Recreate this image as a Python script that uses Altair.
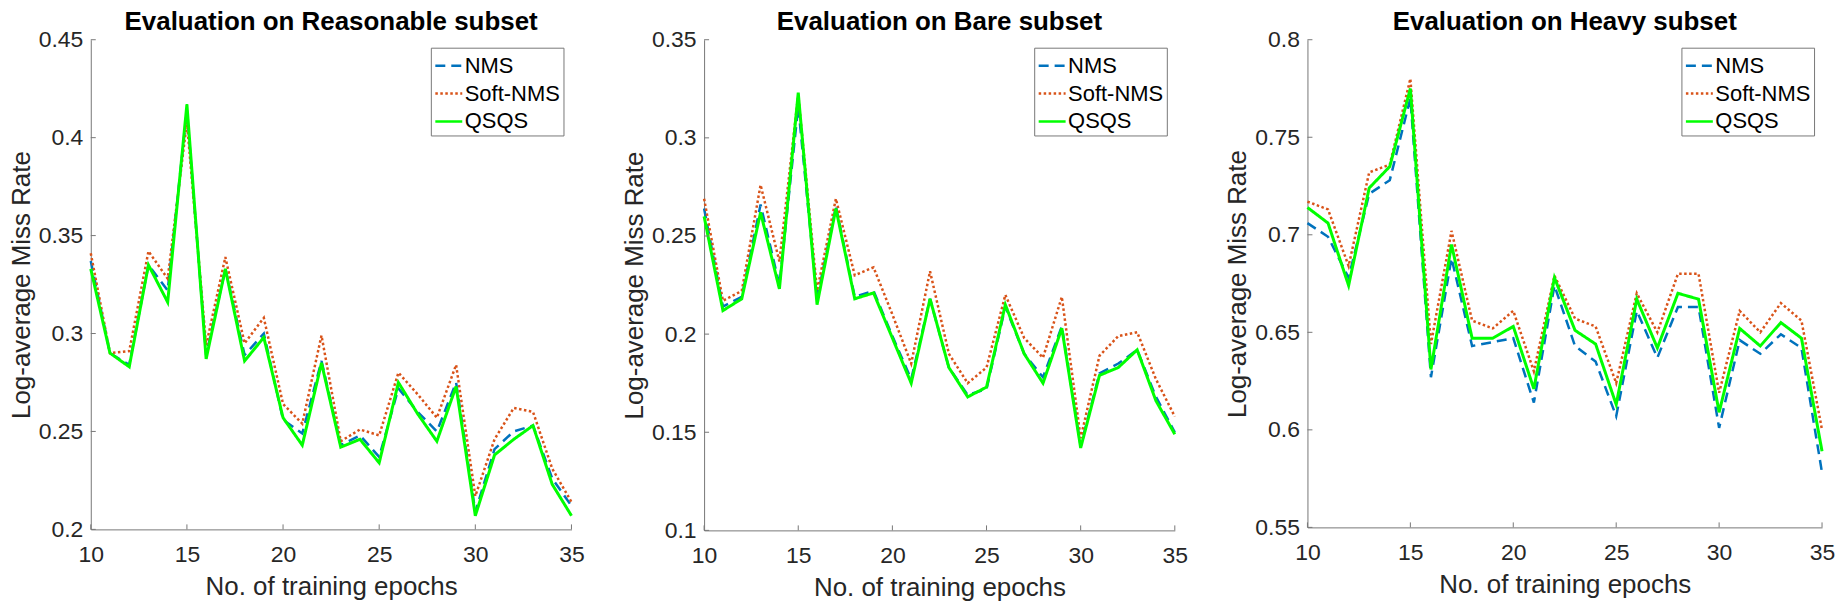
import altair as alt
import pandas as pd

# ---------------- data ----------------
epochs = [10, 11, 12, 13, 14, 15, 16, 17, 18, 19, 20, 21, 22, 23, 24, 25, 26, 27, 28, 29, 30, 31, 32, 33, 34, 35]
methods = ["NMS", "Soft-NMS", "QSQS"]

reasonable_nms = [0.337, 0.290, 0.284, 0.335, 0.322, 0.414, 0.289, 0.333, 0.289, 0.300, 0.256, 0.249, 0.286,
                  0.243, 0.248, 0.237, 0.272, 0.260, 0.250, 0.275, 0.209, 0.241, 0.250, 0.253, 0.226, 0.212]
reasonable_soft = [0.341, 0.290, 0.291, 0.342, 0.328, 0.408, 0.294, 0.339, 0.295, 0.308, 0.264, 0.254, 0.299,
                   0.245, 0.251, 0.248, 0.280, 0.269, 0.257, 0.284, 0.217, 0.246, 0.262, 0.260, 0.231, 0.214]
reasonable_qsqs = [0.333, 0.290, 0.283, 0.335, 0.316, 0.417, 0.287, 0.333, 0.286, 0.298, 0.257, 0.243, 0.285,
                   0.242, 0.246, 0.234, 0.275, 0.259, 0.245, 0.273, 0.207, 0.238, 0.246, 0.253, 0.223, 0.207]

bare_nms = [0.264, 0.214, 0.219, 0.266, 0.225, 0.316, 0.218, 0.265, 0.219, 0.222, 0.199, 0.177, 0.218,
            0.183, 0.169, 0.172, 0.214, 0.190, 0.178, 0.204, 0.143, 0.180, 0.185, 0.192, 0.168, 0.150]
bare_soft = [0.269, 0.217, 0.222, 0.276, 0.237, 0.322, 0.222, 0.269, 0.230, 0.234, 0.210, 0.185, 0.232,
             0.190, 0.175, 0.183, 0.220, 0.198, 0.188, 0.219, 0.147, 0.189, 0.199, 0.201, 0.177, 0.158]
bare_qsqs = [0.260, 0.212, 0.218, 0.262, 0.223, 0.323, 0.215, 0.264, 0.218, 0.221, 0.198, 0.175, 0.218,
             0.183, 0.168, 0.173, 0.215, 0.190, 0.175, 0.203, 0.142, 0.179, 0.183, 0.192, 0.166, 0.149]

heavy_nms = [0.706, 0.699, 0.678, 0.721, 0.728, 0.770, 0.627, 0.688, 0.643, 0.645, 0.647, 0.614, 0.674,
             0.643, 0.635, 0.607, 0.661, 0.637, 0.663, 0.663, 0.601, 0.646, 0.639, 0.649, 0.642, 0.578]
heavy_soft = [0.717, 0.713, 0.684, 0.732, 0.736, 0.780, 0.644, 0.702, 0.656, 0.652, 0.661, 0.630, 0.679,
              0.657, 0.653, 0.624, 0.670, 0.650, 0.680, 0.680, 0.619, 0.661, 0.650, 0.665, 0.656, 0.600]
heavy_qsqs = [0.714, 0.706, 0.674, 0.724, 0.735, 0.775, 0.631, 0.695, 0.647, 0.647, 0.653, 0.621, 0.678,
              0.651, 0.644, 0.613, 0.667, 0.642, 0.670, 0.667, 0.609, 0.652, 0.643, 0.655, 0.647, 0.589]

x_ticks = [10, 15, 20, 25, 30, 35]
reasonable_yticks = [0.2, 0.25, 0.3, 0.35, 0.4, 0.45]
bare_yticks = [0.1, 0.15, 0.2, 0.25, 0.3, 0.35]
heavy_yticks = [0.55, 0.6, 0.65, 0.7, 0.75, 0.8]

titles = ["Evaluation on Reasonable subset", "Evaluation on Bare subset", "Evaluation on Heavy subset"]

# ---------------- style ----------------
FONT = "Liberation Sans"
COLORS = ["#0072BD", "#D95319", "#00FF00"]
DASHES = [[10, 6], [2.5, 2.5], [1, 0]]
WIDTHS = {"NMS": 2.5, "Soft-NMS": 2.5, "QSQS": 3}
AXIS_GRAY = "#777777"
TEXT = "#262626"


def panel(title, nms, soft, qsqs, yticks, width, height):
    rows = []
    for m, vals in zip(methods, [nms, soft, qsqs]):
        for e, v in zip(epochs, vals):
            rows.append({"epoch": e, "value": v, "method": m})
    df = pd.DataFrame(rows)

    xscale = alt.Scale(domain=[x_ticks[0], x_ticks[-1]], nice=False, zero=False)
    yscale = alt.Scale(domain=[yticks[0], yticks[-1]], nice=False, zero=False)

    legend = alt.Legend(
        title=None, orient="top-right", offset=8, strokeColor=AXIS_GRAY, fillColor="white",
        padding=3, symbolType="stroke", symbolSize=729, symbolStrokeWidth=2.5,
        labelFont=FONT, labelFontSize=22, labelColor="black", labelOffset=1,
        rowPadding=2, labelLimit=300,
    )

    common = dict(ticks=False, grid=False, labelFlush=False, labelOverlap=False,
                  labelFont=FONT, labelFontSize=23, labelColor=TEXT,
                  titleFont=FONT, titleFontSize=26, titleFontWeight="normal", titleColor=TEXT,
                  domainColor=AXIS_GRAY, domainWidth=1)
    xaxis = alt.Axis(values=x_ticks, format="d", title="No. of training epochs",
                     labelPadding=14, titlePadding=7, **common)
    yaxis = alt.Axis(values=yticks, format=".2~f", title="Log-average Miss Rate",
                     labelPadding=8, titlePadding=4, **common)
    x = alt.X("epoch:Q", scale=xscale, axis=xaxis)
    y = alt.Y("value:Q", scale=yscale, axis=yaxis)
    color = alt.Color("method:N", scale=alt.Scale(domain=methods, range=COLORS), legend=legend)
    dash = alt.StrokeDash("method:N", scale=alt.Scale(domain=methods, range=DASHES), legend=legend)

    base = alt.Chart(df)
    layers = []
    for m in methods:
        layers.append(
            base.transform_filter(alt.datum.method == m)
            .mark_line(strokeWidth=WIDTHS[m], strokeCap="butt", strokeJoin="miter")
            .encode(x=x, y=y, color=color, strokeDash=dash)
        )

    ytick_df = pd.DataFrame({"t": yticks})
    xtick_df = pd.DataFrame({"t": x_ticks})
    ytick_layer = alt.Chart(ytick_df).mark_rule(color=AXIS_GRAY, strokeWidth=1).encode(
        y=alt.Y("t:Q", scale=yscale, axis=yaxis), x=alt.value(0), x2=alt.value(5))
    xtick_layer = alt.Chart(xtick_df).mark_rule(color=AXIS_GRAY, strokeWidth=1).encode(
        x=alt.X("t:Q", scale=xscale, axis=xaxis), y=alt.value(height), y2=alt.value(height - 5))

    return alt.layer(*layers, ytick_layer, xtick_layer).properties(
        width=width, height=height,
        title=alt.TitleParams(title, font=FONT, fontSize=26, fontWeight="bold", color="black",
                              anchor="middle", offset=-6),
    )


p1 = panel(titles[0], reasonable_nms, reasonable_soft, reasonable_qsqs, reasonable_yticks, 482, 491)
p2 = panel(titles[1], bare_nms, bare_soft, bare_qsqs, bare_yticks, 472, 492)
p3 = panel(titles[2], heavy_nms, heavy_soft, heavy_qsqs, heavy_yticks, 516, 489)

chart = (
    alt.hconcat(p1, p2, p3, spacing=133, bounds="flush",
                padding={"left": 0, "top": 0, "right": 0, "bottom": 0}, background="white")
    .resolve_scale(color="independent", strokeDash="independent")
    .resolve_legend(color="independent", strokeDash="independent")
    .configure_view(strokeWidth=0)
)

chart.save("out.html", embed_options={"renderer": "svg", "actions": False})
